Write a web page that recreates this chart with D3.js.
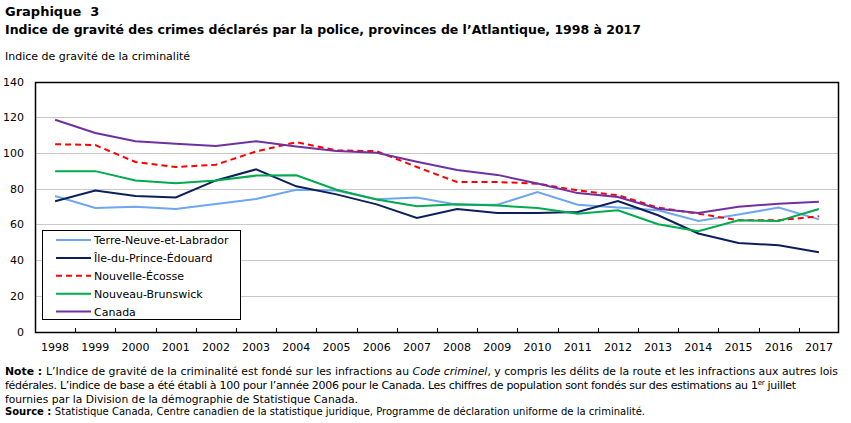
<!DOCTYPE html>
<html lang="fr">
<head>
    <meta charset="UTF-8">
    <title>Graphique 3</title>
    <script src="https://cdnjs.cloudflare.com/ajax/libs/d3/7.8.5/d3.min.js" charset="utf-8"></script>
    <style>
        body { margin: 0; background: #fff; }
        svg { font-family: "DejaVu Sans", Verdana, sans-serif; }
        .grid line { stroke: #c8c8c8; stroke-width: 1px; }
    </style>
</head>
<body>
<svg width="851" height="423"></svg>
<script>
    var years = ["1998","1999","2000","2001","2002","2003","2004","2005","2006","2007",
                 "2008","2009","2010","2011","2012","2013","2014","2015","2016","2017"];
    var yTicks = [0, 20, 40, 60, 80, 100, 120, 140];

    var seriesNames = ["Terre-Neuve-et-Labrador", "Île-du-Prince-Édouard", "Nouvelle-Écosse", "Nouveau-Brunswick", "Canada"];
    var tnl = [75.9, 69.2, 69.9, 68.6, 71.4, 74.2, 79.4, 79.0, 74.0, 75.1, 71.0, 71.0, 78.1, 71.0, 69.4, 67.9, 61.9, 65.5, 69.4, 62.8];
    var ipe = [72.9, 78.9, 75.9, 75.1, 84.6, 90.8, 81.3, 76.8, 71.2, 63.6, 68.6, 66.4, 66.4, 66.9, 73.1, 65.1, 54.9, 49.6, 48.3, 44.4];
    var ne  = [104.9, 104.4, 94.9, 92.1, 93.4, 100.8, 106.0, 101.4, 101.0, 92.1, 83.7, 83.7, 82.8, 79.0, 76.3, 69.4, 66.0, 62.3, 62.3, 64.5];
    var nb  = [89.8, 89.8, 84.6, 83.0, 84.5, 87.3, 87.5, 79.4, 73.9, 70.1, 71.2, 70.5, 69.2, 66.0, 67.9, 60.1, 56.1, 62.3, 61.9, 68.6];
    var can = [118.6, 111.2, 106.6, 105.1, 103.9, 106.6, 103.6, 101.1, 100.1, 95.1, 90.5, 87.7, 82.9, 77.5, 75.3, 68.8, 66.3, 69.9, 71.5, 72.6];

    var colors = ["#6ea6f0", "#0b1f5a", "#ff0000", "#00aa4e", "#7030a0"];
    var dashes = [null, null, "6,4", null, null];
    var allSeries = [tnl, ipe, ne, nb, can];

    var svg = d3.select("svg");
    var plotLeft = 35, plotRight = 839, plotTop = 81.5, plotBottom = 331.5;

    var x = d3.scaleBand().domain(years).range([plotLeft, plotRight]);
    var y = d3.scaleLinear().domain([0, 140]).range([plotBottom, plotTop]);

    // titles
    svg.append("text").attr("x", 5).attr("y", 16).attr("font-size", 13).attr("font-weight", "bold")
        .attr("xml:space", "preserve").text("Graphique  3");
    svg.append("text").attr("x", 5).attr("y", 34).attr("font-size", 13).attr("font-weight", "bold")
        .attr("textLength", 636).attr("lengthAdjust", "spacingAndGlyphs")
        .text("Indice de gravité des crimes déclarés par la police, provinces de l’Atlantique, 1998 à 2017");
    svg.append("text").attr("x", 5).attr("y", 60).attr("font-size", 11)
        .text("Indice de gravité de la criminalité");

    // gridlines
    svg.append("g").attr("class", "grid")
        .selectAll("line").data(yTicks.filter(function (d) { return d > 0 && d < 140; }))
        .enter().append("line")
        .attr("x1", plotLeft).attr("x2", plotRight)
        .attr("y1", function (d) { return Math.round(y(d)) + 0.5; })
        .attr("y2", function (d) { return Math.round(y(d)) + 0.5; });

    // y labels
    svg.append("g").selectAll("text").data(yTicks).enter().append("text")
        .attr("x", 24).attr("y", function (d) { return y(d) + 4; })
        .attr("text-anchor", "end").attr("font-size", 11)
        .text(function (d) { return d; });

    // frame
    svg.append("rect").attr("x", plotLeft + 0.5).attr("y", Math.round(plotTop) + 0.5)
        .attr("width", plotRight - plotLeft - 1).attr("height", Math.round(plotBottom) - Math.round(plotTop))
        .attr("fill", "none").attr("stroke", "#000").attr("stroke-width", 1.5);

    // x ticks (inside, at band boundaries)
    svg.append("g").selectAll("line").data(years.slice(1)).enter().append("line")
        .attr("x1", function (d) { return Math.round(x(d)) + 0.5; })
        .attr("x2", function (d) { return Math.round(x(d)) + 0.5; })
        .attr("y1", Math.round(plotBottom) - 4).attr("y2", Math.round(plotBottom))
        .attr("stroke", "#000").attr("stroke-width", 1);

    // x labels
    svg.append("g").selectAll("text").data(years).enter().append("text")
        .attr("x", function (d) { return x(d) + x.bandwidth() / 2; })
        .attr("y", 351).attr("text-anchor", "middle").attr("font-size", 11)
        .text(function (d) { return d; });

    // lines
    var line = d3.line()
        .x(function (d, i) { return x(years[i]) + x.bandwidth() / 2; })
        .y(function (d) { return y(d); });

    svg.append("g").selectAll("path").data(allSeries).enter().append("path")
        .attr("d", line)
        .attr("fill", "none")
        .attr("stroke", function (d, i) { return colors[i]; })
        .attr("stroke-width", 2)
        .attr("stroke-dasharray", function (d, i) { return dashes[i]; });

    // legend
    var legend = svg.append("g");
    legend.append("rect").attr("x", 42.5).attr("y", 230.5).attr("width", 198).attr("height", 89)
        .attr("fill", "#fff").attr("stroke", "#000").attr("stroke-width", 1);
    var items = legend.selectAll("g.item").data(seriesNames).enter().append("g")
        .attr("transform", function (d, i) { return "translate(0," + (240 + i * 17.9) + ")"; });
    items.append("line").attr("x1", 56).attr("x2", 91).attr("y1", 0).attr("y2", 0)
        .attr("stroke", function (d, i) { return colors[i]; })
        .attr("stroke-width", 2)
        .attr("stroke-dasharray", function (d, i) { return dashes[i]; });
    items.append("text").attr("x", 94).attr("y", 4).attr("font-size", 11)
        .text(function (d) { return d; });

    // notes
    var n1 = svg.append("text").attr("x", 5).attr("y", 375).attr("font-size", 11)
        .attr("textLength", 833).attr("lengthAdjust", "spacingAndGlyphs");
    n1.append("tspan").attr("font-weight", "bold").text("Note : ");
    n1.append("tspan").text("L’Indice de gravité de la criminalité est fondé sur les infractions au ");
    n1.append("tspan").attr("font-style", "italic").text("Code criminel");
    n1.append("tspan").text(", y compris les délits de la route et les infractions aux autres lois");

    var n2 = svg.append("text").attr("x", 5).attr("y", 389).attr("font-size", 11)
        .attr("letter-spacing", -0.3);
    n2.append("tspan").text("fédérales. L’indice de base a été établi à 100 pour l’année 2006 pour le Canada. Les chiffres de population sont fondés sur des estimations au 1");
    n2.append("tspan").attr("font-size", 7).attr("dy", -4).text("er");
    n2.append("tspan").attr("dy", 4).text(" juillet");

    svg.append("text").attr("x", 5).attr("y", 403).attr("font-size", 11)
        .attr("textLength", 353).attr("lengthAdjust", "spacingAndGlyphs")
        .text("fournies par la Division de la démographie de Statistique Canada.");

    var n4 = svg.append("text").attr("x", 5).attr("y", 415).attr("font-size", 11)
        .attr("textLength", 640).attr("lengthAdjust", "spacingAndGlyphs");
    n4.append("tspan").attr("font-weight", "bold").text("Source : ");
    n4.append("tspan").text("Statistique Canada, Centre canadien de la statistique juridique, Programme de déclaration uniforme de la criminalité.");
</script>
</body>
</html>
